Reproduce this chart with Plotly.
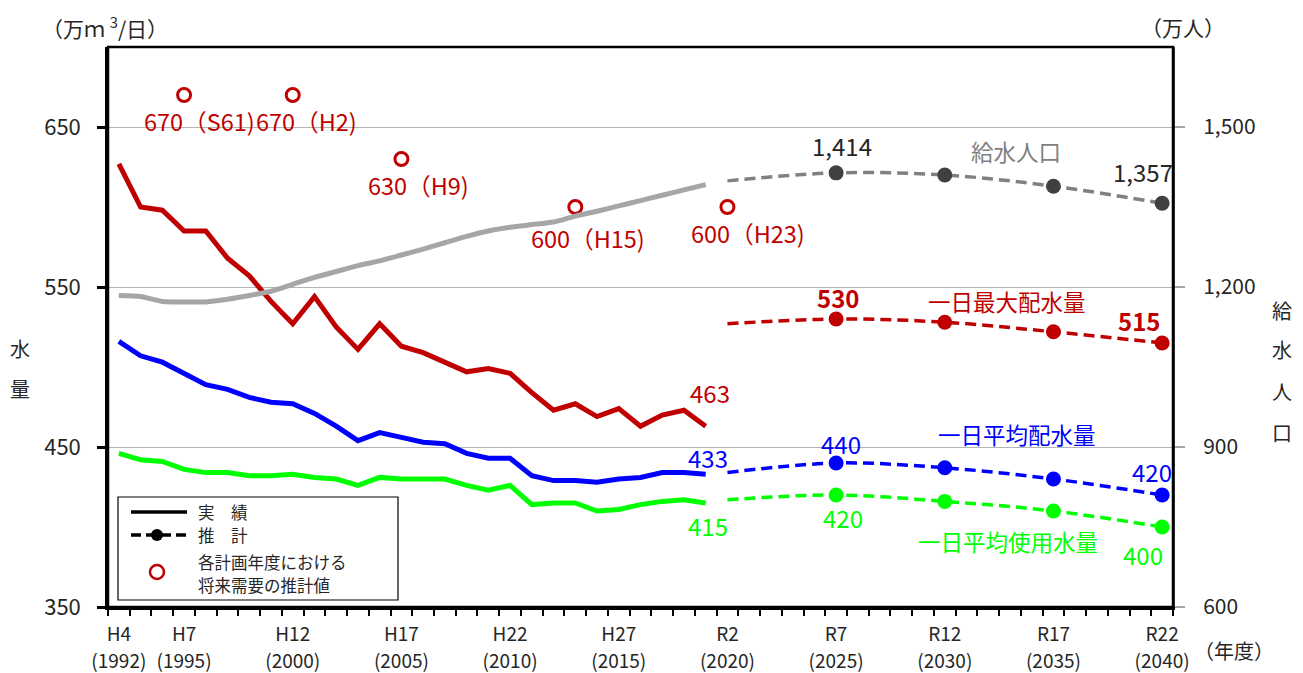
import plotly.graph_objects as go

# ---- data -------------------------------------------------------------
years_actual = list(range(1992, 2020))

# 一日最大配水量 (万m3/日)
max_actual = [627, 600, 598, 585, 585, 568, 557, 541, 527, 544, 525, 511, 527, 513,
              509, 503, 497, 499, 496, 484, 473, 477, 469, 474, 463, 470, 473, 463]
# 一日平均配水量 (万m3/日)
dist_actual = [516, 507, 503, 496, 489, 486, 481, 478, 477, 471, 463, 454, 459, 456,
               453, 452, 446, 443, 443, 432, 429, 429, 428, 430, 431, 434, 434, 433]
# 一日平均使用水量 (万m3/日)
use_actual = [446, 442, 441, 436, 434, 434, 432, 432, 433, 431, 430, 426, 431, 430,
              430, 430, 426, 423, 426, 414, 415, 415, 410, 411, 414, 416, 417, 415]
# 給水人口 (万人)
pop_actual = [1184, 1182, 1173, 1172, 1172, 1177, 1184, 1192, 1205, 1218, 1229, 1240,
              1249, 1260, 1271, 1283, 1295, 1305, 1312, 1317, 1322, 1333, 1342, 1352,
              1362, 1372, 1382, 1392]

years_fc = [2020, 2025, 2030, 2035, 2040]
max_fc = [527, 530, 528, 522, 515]
dist_fc = [434, 440, 437, 430, 420]
use_fc = [417, 420, 416, 410, 400]
pop_fc = [1399, 1414, 1410, 1389, 1357]

# 各計画年度における将来需要の推計値
plan_years = [1995, 2000, 2005, 2013, 2020]
plan_vals = [670, 670, 630, 600, 600]
plan_tags = ["S61", "H2", "H9", "H15", "H23"]

tick_years = [1992, 1995, 2000, 2005, 2010, 2015, 2020, 2025, 2030, 2035, 2040]
era_labels = ["H4", "H7", "H12", "H17", "H22", "H27", "R2", "R7", "R12", "R17", "R22"]

# ---- style ------------------------------------------------------------
FONT = "Noto Sans CJK JP"
RED = "#C00000"
BLUE = "#0000FF"
GREEN = "#00FF00"
GRAY = "#A6A6A6"
GRAY_FC = "#808080"
DARK = "#404040"
TXT = "#262626"

fig = go.Figure()

# actual series
fig.add_trace(go.Scatter(x=years_actual, y=pop_actual, yaxis="y2", mode="lines",
                         line=dict(color=GRAY, width=5, shape="spline", smoothing=0.6),
                         hoverinfo="skip"))
fig.add_trace(go.Scatter(x=years_actual, y=use_actual, mode="lines",
                         line=dict(color=GREEN, width=5), hoverinfo="skip"))
fig.add_trace(go.Scatter(x=years_actual, y=dist_actual, mode="lines",
                         line=dict(color=BLUE, width=5), hoverinfo="skip"))
fig.add_trace(go.Scatter(x=years_actual, y=max_actual, mode="lines",
                         line=dict(color=RED, width=5), hoverinfo="skip"))

# forecast series (dashed, smoothed, markers from 2025)
fc_sizes = [0, 15, 15, 15, 15]
for ys, lc, mc, ax in [(pop_fc, GRAY_FC, DARK, "y2"), (max_fc, RED, RED, "y"),
                       (dist_fc, BLUE, BLUE, "y"), (use_fc, GREEN, GREEN, "y")]:
    fig.add_trace(go.Scatter(x=years_fc, y=ys, yaxis=ax, mode="lines+markers",
                             line=dict(color=lc, width=3.5, dash="11px,6px",
                                       shape="spline", smoothing=1),
                             marker=dict(color=mc, size=fc_sizes, opacity=1,
                                         line=dict(width=0)),
                             opacity=1, hoverinfo="skip"))

# past plan estimates
fig.add_trace(go.Scatter(x=plan_years, y=plan_vals, mode="markers",
                         marker=dict(symbol="circle-open", size=13, color=RED,
                                     line=dict(color=RED, width=3)),
                         hoverinfo="skip"))

# carrier trace for the second row of year labels
fig.add_trace(go.Scatter(x=[tick_years[0]], y=[350], xaxis="x2", mode="markers",
                         marker=dict(opacity=0), hoverinfo="skip"))

ann = []


def label(x, y, text, color, dx=0, dy=0, yref="y", size=24, bold=False):
    if bold:
        text = "<b>" + text + "</b>"
    ann.append(dict(x=x, y=y, xref="x", yref=yref, text=text, showarrow=False,
                    xshift=dx, yshift=dy, font=dict(family=FONT, size=size, color=color)))


# plan labels under the open circles
plan_shift = [(15, -26), (14, -26), (17, -26), (13, -31), (21, -26)]
for yr, v, tag, (dx, dy) in zip(plan_years, plan_vals, plan_tags, plan_shift):
    label(yr, v, f"{v}（{tag})", RED, dx, dy, size=23.5)

# value labels
label(years_actual[-1], max_actual[-1], str(max_actual[-1]), RED, 4, 34)
label(years_actual[-1], dist_actual[-1], str(dist_actual[-1]), BLUE, 2, 17)
label(years_actual[-1], use_actual[-1], str(use_actual[-1]), GREEN, 2, -22)
label(years_fc[1], max_fc[1], str(max_fc[1]), RED, 2, 22, bold=True)
label(years_fc[-1], max_fc[-1], str(max_fc[-1]), RED, -23, 23, bold=True)
label(years_fc[1], dist_fc[1], str(dist_fc[1]), BLUE, 5, 20)
label(years_fc[-1], dist_fc[-1], str(dist_fc[-1]), BLUE, -10, 24)
label(years_fc[1], use_fc[1], str(use_fc[1]), GREEN, 7, -22)
label(years_fc[-1], use_fc[-1], str(use_fc[-1]), GREEN, -19, -27)
label(years_fc[1], pop_fc[1], f"{pop_fc[1]:,}", TXT, 6, 27, yref="y2")
label(years_fc[-1], pop_fc[-1], f"{pop_fc[-1]:,}", TXT, -19, 32, yref="y2")

# series names
label(2033.28, 635, "給水人口", "#7F7F7F", size=22.5)
label(2032.86, 541.2, "一日最大配水量", RED, size=22.5)
label(2033.32, 458.1, "一日平均配水量", BLUE, size=22.5)
label(2032.9, 391.2, "一日平均使用水量", GREEN, size=22.5)


def paper_text(x, y, text, size=20, color=TXT, xanchor="center"):
    ann.append(dict(x=x, y=y, xref="paper", yref="paper", text=text, showarrow=False,
                    xanchor=xanchor, yanchor="middle", align="left",
                    font=dict(family=FONT, size=size, color=color)))


# axis unit titles
paper_text(-0.003, 1.036, "（万ｍ <sup>3</sup>/日）", size=21)
paper_text(1.0094, 1.036, "（万人）", size=21)
paper_text(1.0573, -0.077, "（年度）", size=20)
for ch, yy in zip("水量", [0.4625, 0.391]):
    paper_text(-0.0826, yy, ch)
for ch, yy in zip("給水人口", [0.530, 0.459, 0.384, 0.3125]):
    paper_text(1.1023, yy, ch)

# legend
paper_text(0.0826, 0.1696, "実　績", size=16.5, xanchor="left")
paper_text(0.0826, 0.1286, "推　計", size=16.5, xanchor="left")
paper_text(0.0826, 0.0804, "各計画年度における", size=16.5, xanchor="left")
paper_text(0.0826, 0.0393, "将来需要の推計値", size=16.5, xanchor="left")

shapes = [
    # plot frame
    dict(type="rect", xref="paper", yref="paper", x0=0, x1=1, y0=0, y1=1,
         line=dict(color="black", width=2.5), layer="above"),
    # legend box
    dict(type="rect", xref="paper", yref="paper", x0=0.0094, x1=0.2723, y0=0.0125, y1=0.1964,
         line=dict(color="black", width=1.2), fillcolor="white", layer="above"),
    dict(type="line", xref="paper", yref="paper", x0=0.0216, x1=0.0742, y0=0.1696, y1=0.1696,
         line=dict(color="black", width=3.5), layer="above"),
    dict(type="line", xref="paper", yref="paper", x0=0.0216, x1=0.0742, y0=0.1286, y1=0.1286,
         line=dict(color="black", width=3.5, dash="10px,5px"), layer="above"),
    dict(type="circle", xref="paper", yref="paper", xsizemode="pixel", ysizemode="pixel",
         xanchor=0.0460, yanchor=0.1286, x0=-6, x1=6, y0=-6, y1=6,
         fillcolor="black", line=dict(color="black", width=0), layer="above"),
    dict(type="circle", xref="paper", yref="paper", xsizemode="pixel", ysizemode="pixel",
         xanchor=0.0460, yanchor=0.0625, x0=-7, x1=7, y0=-7, y1=7,
         fillcolor="rgba(0,0,0,0)", line=dict(color=RED, width=2.5), layer="above"),
]

fig.update_layout(
    width=1303, height=673,
    margin=dict(l=108, r=130, t=47, b=66, autoexpand=False),
    plot_bgcolor="white", paper_bgcolor="white",
    showlegend=False,
    font=dict(family=FONT, size=19, color=TXT),
    xaxis=dict(range=[1991.5, 2040.5], tickmode="array", tickvals=tick_years,
               ticktext=era_labels, ticks="", showline=True, linecolor="black",
               linewidth=2.5, showgrid=False, zeroline=False, ticklabelstandoff=8,
               automargin=False,
               tickfont=dict(family=FONT, size=19, color=TXT),
               minor=dict(tickmode="linear", tick0=1991.5, dtick=1, ticks="outside",
                          ticklen=6, tickwidth=2, tickcolor="black", showgrid=False)),
    xaxis2=dict(range=[1991.5, 2040.5], overlaying="x", side="bottom", tickmode="array",
                tickvals=tick_years, ticktext=[f"({y})" for y in tick_years], ticks="",
                showline=False, showgrid=False, zeroline=False, ticklabelstandoff=41,
                automargin=False,
                tickfont=dict(family=FONT, size=19, color=TXT)),
    yaxis=dict(range=[350, 700], tickmode="array", tickvals=[350, 450, 550, 650],
               ticks="outside", ticklen=8, tickwidth=2.5, tickcolor="black",
               showline=True, linecolor="black", linewidth=2.5, showgrid=True,
               gridcolor="#B4B4B4", gridwidth=1.3, zeroline=False, automargin=False,
               ticklabelstandoff=12,
               tickfont=dict(family=FONT, size=22, color=TXT)),
    yaxis2=dict(range=[600, 1650], overlaying="y", side="right", tickmode="array",
                tickvals=[600, 900, 1200, 1500], ticktext=["600", "900", "1,200", "1,500"],
                ticks="outside", ticklen=10, tickwidth=1.5, tickcolor="#A6A6A6",
                showline=True, linecolor="#333333", linewidth=2, showgrid=False,
                zeroline=False, automargin=False, ticklabelstandoff=14,
                tickfont=dict(family=FONT, size=21, color=TXT)),
    annotations=ann,
    shapes=shapes,
)

fig.write_html("out.html")
